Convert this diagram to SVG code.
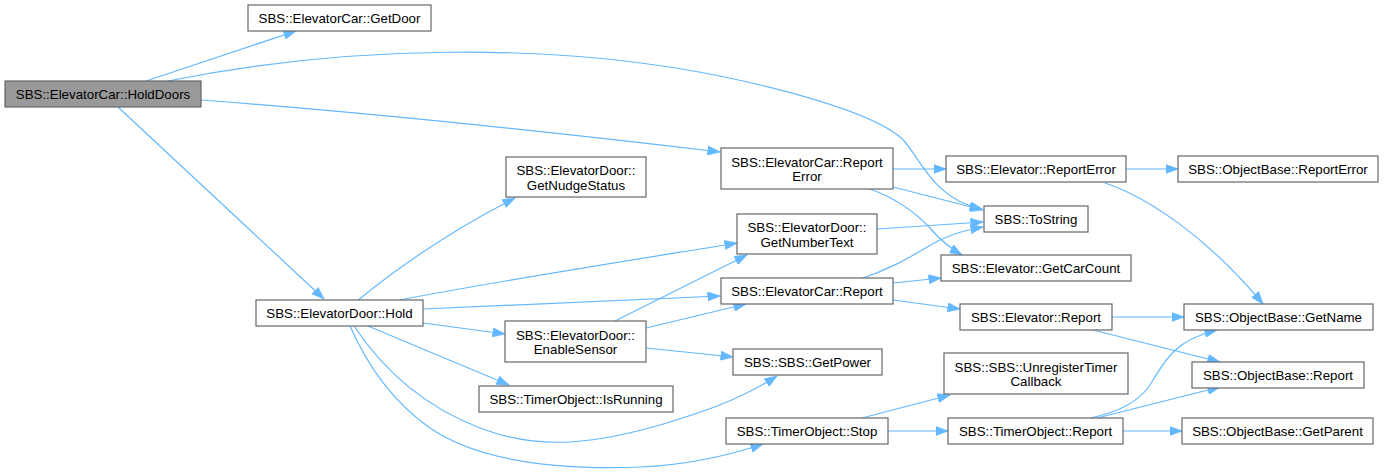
<svg xmlns="http://www.w3.org/2000/svg" width="1384" height="476" viewBox="0 0 1384 476">
<style>
.n rect{fill:#ffffff;stroke:#666666;stroke-width:1.2}
.n.hl rect{fill:#999999}
.n text{font-family:"Liberation Sans",Arial,Helvetica,sans-serif;font-size:13.3px;fill:#000000;text-anchor:middle}
.e path{fill:none;stroke:#63b8ff;stroke-width:1.2;marker-end:url(#ah)}
</style>
<defs>
<marker id="ah" viewBox="0 0 13 9.4" markerWidth="13" markerHeight="9.4" refX="12.5" refY="4.7" orient="auto" markerUnits="userSpaceOnUse">
<path d="M0,0 L13,4.7 L0,9.4 z" fill="#63b8ff" stroke="#63b8ff" stroke-width="0.5"/>
</marker>
</defs>
<rect x="0" y="0" width="1384" height="476" fill="#ffffff"/>
<g id="connectors" class="e">
<path d="M146,81 L296,31"/>
<path d="M168,81 C330,48 560,36 760,85 C850,107 890,125 905,142 C920,159 935,200 982,209"/>
<path d="M201,100 C360,112 560,133 720,152"/>
<path d="M118,107 L324,299"/>
<path d="M357,301 C390,274 440,236 515,198"/>
<path d="M400,300 C480,284 620,262 737,243"/>
<path d="M423,309 L720,296"/>
<path d="M423,323 L505,334"/>
<path d="M368,326 L509,385"/>
<path d="M354,326 C380,365 420,405 480,428 C530,447 580,448 660,425 C700,413 740,400 777,376"/>
<path d="M350,326 C365,360 390,400 430,428 C480,462 560,470 640,467 C690,465 730,455 763,444"/>
<path d="M613,322 L747,255"/>
<path d="M646,328 L746,304"/>
<path d="M646,348 L733,357"/>
<path d="M893,169 L946,169"/>
<path d="M893,187 L983,210"/>
<path d="M870,189 C895,198 915,212 930,228 C940,240 950,248 962,255"/>
<path d="M877,229 L983,222"/>
<path d="M860,279 C900,266 920,250 940,240 C955,233 965,230 983,227"/>
<path d="M893,283 L941,278"/>
<path d="M893,300 L960,309"/>
<path d="M1126,169 L1178,169"/>
<path d="M1105,183 C1150,198 1210,240 1263,304"/>
<path d="M1112,317 L1184,317"/>
<path d="M1093,330 L1220,362"/>
<path d="M1090,418 C1120,412 1140,400 1150,385 C1165,360 1175,340 1217,330"/>
<path d="M1097,418 L1220,387"/>
<path d="M1123,431 L1182,431"/>
<path d="M862,418 L950,395"/>
<path d="M888,431 L948,431"/>
</g>
<g id="n_holddoors" class="n hl"><rect x="5" y="81" width="196" height="26"/><text x="103" y="99">SBS::ElevatorCar::HoldDoors</text></g>
<g id="n_getdoor" class="n"><rect x="248" y="5" width="183" height="26"/><text x="339.5" y="23">SBS::ElevatorCar::GetDoor</text></g>
<g id="n_car_reporterror" class="n"><rect x="721" y="148" width="172" height="41"/><text x="807" y="166.5">SBS::ElevatorCar::Report</text><text x="807" y="181">Error</text></g>
<g id="n_getnudgestatus" class="n"><rect x="506" y="157" width="140" height="40"/><text x="576" y="175">SBS::ElevatorDoor::</text><text x="576" y="189.5">GetNudgeStatus</text></g>
<g id="n_getnumbertext" class="n"><rect x="737" y="214" width="140" height="40"/><text x="807" y="232">SBS::ElevatorDoor::</text><text x="807" y="246.5">GetNumberText</text></g>
<g id="n_car_report" class="n"><rect x="721" y="278" width="172" height="26"/><text x="807" y="296">SBS::ElevatorCar::Report</text></g>
<g id="n_hold" class="n"><rect x="256" y="300" width="167" height="26"/><text x="339.5" y="318">SBS::ElevatorDoor::Hold</text></g>
<g id="n_enablesensor" class="n"><rect x="505" y="321" width="141" height="41"/><text x="575.5" y="339.5">SBS::ElevatorDoor::</text><text x="575.5" y="354">EnableSensor</text></g>
<g id="n_getpower" class="n"><rect x="733" y="349" width="149" height="26"/><text x="807.5" y="367">SBS::SBS::GetPower</text></g>
<g id="n_isrunning" class="n"><rect x="479" y="386" width="194" height="26"/><text x="576" y="404">SBS::TimerObject::IsRunning</text></g>
<g id="n_stop" class="n"><rect x="726" y="418" width="162" height="26"/><text x="807" y="436">SBS::TimerObject::Stop</text></g>
<g id="n_elev_reporterror" class="n"><rect x="946" y="156" width="180" height="26"/><text x="1036" y="174">SBS::Elevator::ReportError</text></g>
<g id="n_ob_reporterror" class="n"><rect x="1178" y="156" width="200" height="26"/><text x="1278" y="174">SBS::ObjectBase::ReportError</text></g>
<g id="n_tostring" class="n"><rect x="984" y="206" width="104" height="26"/><text x="1036" y="224">SBS::ToString</text></g>
<g id="n_getcarcount" class="n"><rect x="941" y="255" width="190" height="26"/><text x="1036" y="273">SBS::Elevator::GetCarCount</text></g>
<g id="n_elev_report" class="n"><rect x="960" y="304" width="152" height="26"/><text x="1036" y="322">SBS::Elevator::Report</text></g>
<g id="n_getname" class="n"><rect x="1184" y="304" width="189" height="26"/><text x="1278.5" y="322">SBS::ObjectBase::GetName</text></g>
<g id="n_unregister" class="n"><rect x="944" y="353" width="184" height="41"/><text x="1036" y="371.5">SBS::SBS::UnregisterTimer</text><text x="1036" y="386">Callback</text></g>
<g id="n_ob_report" class="n"><rect x="1192" y="362" width="172" height="26"/><text x="1278" y="380">SBS::ObjectBase::Report</text></g>
<g id="n_timer_report" class="n"><rect x="948" y="418" width="175" height="26"/><text x="1035.5" y="436">SBS::TimerObject::Report</text></g>
<g id="n_getparent" class="n"><rect x="1182" y="418" width="191" height="26"/><text x="1277.5" y="436">SBS::ObjectBase::GetParent</text></g>
</svg>
